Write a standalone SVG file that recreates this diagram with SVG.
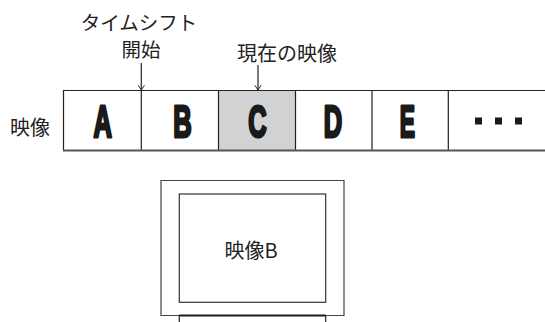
<svg xmlns="http://www.w3.org/2000/svg" width="545" height="322" viewBox="0 0 545 322">
<defs>
<style>
.lbl{font-family:"Noto Sans CJK JP","Noto Sans",sans-serif;font-size:20px;fill:#222;text-anchor:middle}
.sm{font-size:19.5px}
.big{font-family:"Liberation Sans",Arial,sans-serif;font-weight:bold;font-size:44px;fill:#1a1a1a;stroke:#1a1a1a;stroke-width:3;stroke-linejoin:round;text-anchor:middle}
.ln{stroke:#222;stroke-width:1.2;fill:none}
</style>
<marker id="ah" viewBox="0 0 10 10" refX="9" refY="5" markerWidth="8" markerHeight="8" orient="auto" markerUnits="userSpaceOnUse">
<path d="M3,1 L9,5 L3,9" fill="none" stroke="#222" stroke-width="1.2"/>
</marker>
</defs>
<rect width="545" height="322" fill="#fff"/>
<g id="label-timeshift">
<text class="lbl sm" x="139" y="30">タイムシフト</text>
<text class="lbl sm" x="141" y="57">開始</text>
</g>
<g id="label-current">
<text class="lbl" x="287" y="61">現在の映像</text>
</g>
<g id="label-eizo">
<text class="lbl" x="30" y="135">映像</text>
</g>
<g id="strip">
<rect x="63" y="90" width="490" height="60.5" fill="#fff" stroke="none"/>
<rect x="218" y="90" width="77" height="60.5" fill="#d1d2d4"/>
<path class="ln" d="M63.5,150.5 V90.5 H545 M141.3,90 V150.5 M218.5,90 V150.5 M295.5,90 V150.5 M372,90 V150.5 M448.3,90 V150.5"/>
<path d="M63,150.5 H545" stroke="#555" stroke-width="1.8"/>
</g>
<g id="cell-A"><text class="big" transform="translate(102.8,136.5) scale(0.58,1)">A</text></g>
<g id="cell-B"><text class="big" transform="translate(182.5,136.5) scale(0.58,1)">B</text></g>
<g id="cell-C"><text class="big" transform="translate(257.5,136.5) scale(0.58,1)">C</text></g>
<g id="cell-D"><text class="big" transform="translate(333,136.5) scale(0.58,1)">D</text></g>
<g id="cell-E"><text class="big" transform="translate(407.5,136.5) scale(0.52,1)">E</text></g>
<g id="cell-more" fill="#1a1a1a">
<rect x="475" y="117.5" width="7" height="7"/>
<rect x="495" y="117.5" width="7" height="7"/>
<rect x="515" y="117.5" width="7" height="7"/>
</g>
<g id="connectors">
<line class="ln" x1="141.3" y1="63" x2="141.3" y2="90" marker-end="url(#ah)"/>
<line class="ln" x1="258" y1="65" x2="258" y2="90" marker-end="url(#ah)"/>
</g>
<g id="monitor">
<path d="M161,315.5 V180.5 H344 V315.5 Z" fill="#fff" stroke="#444" stroke-width="1.2"/>
<rect x="179.3" y="194" width="146.4" height="108.3" fill="#fff" stroke="#333" stroke-width="1.2"/>
<path d="M179.3,315.5 H325.7" stroke="#1a1a1a" stroke-width="2"/>
<path class="ln" d="M179.3,315.5 V322 M325.7,315.5 V322"/>
<text class="lbl" x="251" y="258">映像B</text>
</g>
</svg>
